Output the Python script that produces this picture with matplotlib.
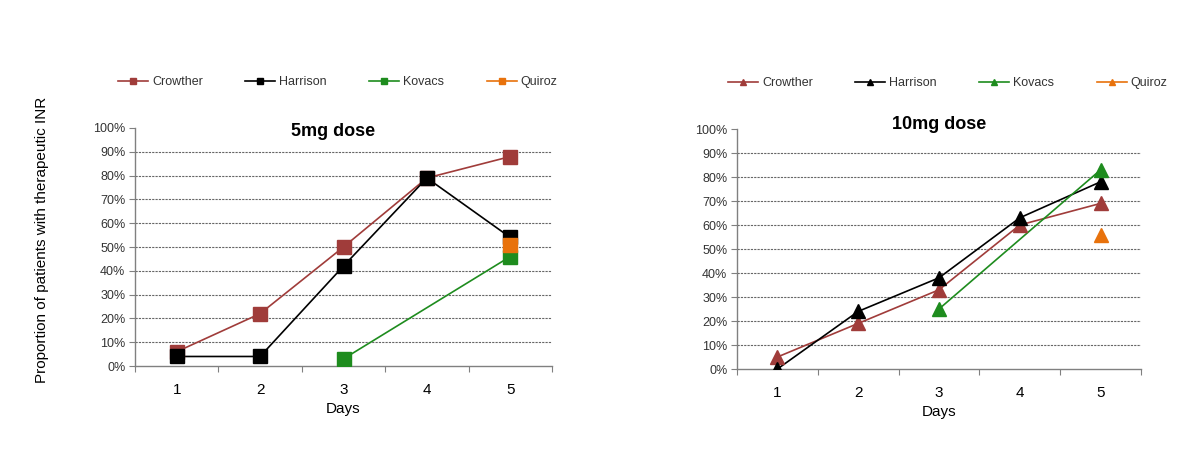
import matplotlib
matplotlib.use("Agg")
import matplotlib.pyplot as plt
import numpy as np
from matplotlib.ticker import FixedLocator, NullFormatter, FixedFormatter

plt.rcParams['font.family'] = ['Liberation Sans', 'DejaVu Sans']

days = [1, 2, 3, 4, 5]
day_labels = ["1", "2", "3", "4", "5"]
series_names = ["Crowther", "Harrison", "Kovacs", "Quiroz"]
colors = ["#A03C3A", "#000000", "#1E8C1E", "#E8720C"]

# 5mg dose (percent)
crowther_5 = [6, 22, 50, 79, 88]
harrison_5 = [4, 4, 42, 79, 54]
kovacs_5 = [np.nan, np.nan, 3, np.nan, 46]
quiroz_5 = [np.nan, np.nan, np.nan, np.nan, 51]

# 10mg dose (percent)
crowther_10 = [5, 19, 33, 60, 69]
harrison_10 = [0, 24, 38, 63, 78]
kovacs_10 = [np.nan, np.nan, 25, np.nan, 83]
quiroz_10 = [np.nan, np.nan, np.nan, np.nan, 56]

yticks = list(range(0, 101, 10))
ytick_labels = [f"{v}%" for v in yticks]

fig = plt.figure(figsize=(12, 4.65), dpi=100)
ax1 = fig.add_axes([135/1200, 1-366/465, (552-135)/1200, (366-128)/465])
ax2 = fig.add_axes([737/1200, 1-369/465, (1141-737)/1200, (369-129)/465])

def setup(ax, data, marker, ms, title, tx, ty, legend_anchor):
    handles = []
    for name, vals, c in zip(series_names, data, colors):
        x = np.array(days, dtype=float)
        y = np.array(vals, dtype=float)
        m = ~np.isnan(y)
        ax.plot(x[m], y[m], color=c, lw=1.2, zorder=3)
        ax.plot(x[m], y[m], ls='none', marker=marker, ms=ms, color=c, mec=c, zorder=4)
        h, = ax.plot([], [], color=c, lw=1.2, marker=marker, ms=5, mec=c, label=name)
        handles.append(h)
    ax.set_xlim(0.5, 5.5)
    ax.set_ylim(0, 100)
    ax.xaxis.set_major_locator(FixedLocator([0.5, 1.5, 2.5, 3.5, 4.5, 5.5]))
    ax.xaxis.set_major_formatter(NullFormatter())
    ax.xaxis.set_minor_locator(FixedLocator(days))
    ax.xaxis.set_minor_formatter(FixedFormatter(day_labels))
    ax.tick_params(axis='x', which='major', length=4, width=0.8, color='#808080', direction='out')
    ax.tick_params(axis='x', which='minor', length=0, labelsize=11, pad=12)
    ax.set_yticks(yticks)
    ax.set_yticklabels(ytick_labels)
    ax.tick_params(axis='y', length=4, width=0.8, color='#808080', labelsize=9, labelcolor='#333333', direction='out', pad=3)
    for s in ['top', 'right']:
        ax.spines[s].set_visible(False)
    for s in ['left', 'bottom']:
        ax.spines[s].set_color('#808080')
        ax.spines[s].set_linewidth(1.0)
    for v in range(10, 100, 10):
        ax.axhline(v, color='#666666', lw=0.8, ls=(0, (2, 1)), zorder=1)
    ax.text(tx, ty, title, transform=ax.transAxes, ha='center', va='center',
            fontsize=13, fontweight='bold')
    ax.set_xlabel("Days", fontsize=11, labelpad=4)
    fig.legend(handles=handles, loc='center left', bbox_to_anchor=legend_anchor,
               ncol=4, frameon=False, fontsize=9, handlelength=2.4, handletextpad=0.3,
               columnspacing=3.4, labelcolor='#333333')

setup(ax1, [crowther_5, harrison_5, kovacs_5, quiroz_5], 's', 9.5, "5mg dose",
      0.475, (366-131)/(366-128), (107/1200, 1-82/465))
setup(ax2, [crowther_10, harrison_10, kovacs_10, quiroz_10], '^', 10, "10mg dose",
      0.50, (369-124)/(369-129), (717/1200, 1-83/465))

fig.text(42/1200, 1-240/465, "Proportion of patients with therapeutic INR",
         rotation=90, ha='center', va='center', fontsize=11)

fig.savefig("out.png", dpi=100)
